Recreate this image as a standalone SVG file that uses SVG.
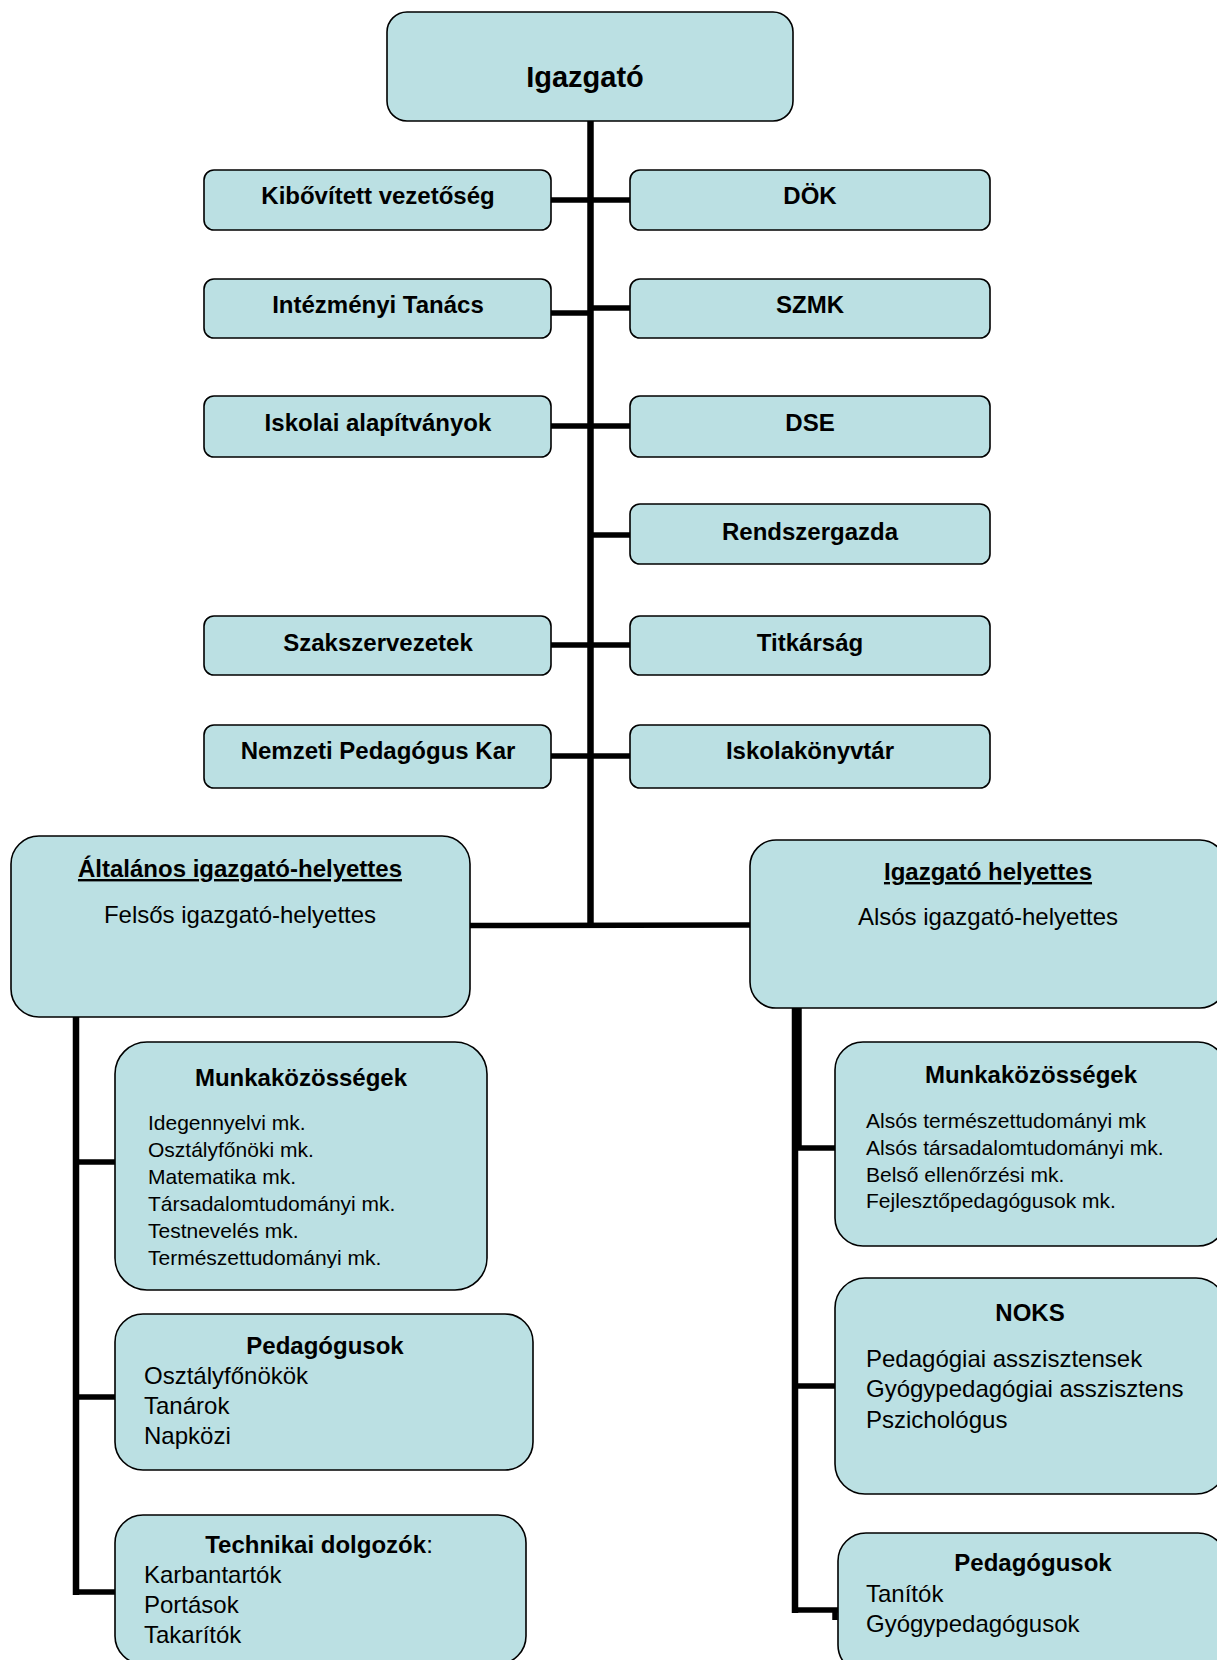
<svg xmlns="http://www.w3.org/2000/svg" width="1217" height="1660" viewBox="0 0 1217 1660">
<style>
.box{fill:#BBE0E3;stroke:#000;stroke-width:1.6}
.ln{stroke:#000;stroke-width:5.5;fill:none}
.tr{stroke:#000;stroke-width:6.5;fill:none}
text{font-family:"Liberation Sans",Arial,sans-serif;fill:#000}
.b{font-weight:bold;font-size:24px;text-anchor:middle}
.t{font-size:24px}
.tc{font-size:24px;text-anchor:middle}
.s{font-size:21px}
.u{text-decoration:underline}
</style>
<defs>
<clipPath id="clipL"><rect x="115" y="1042" width="372" height="226"/></clipPath>
</defs>
<rect width="1217" height="1660" fill="#fff"/>
<g id="connectors">
<line class="tr" x1="590.5" y1="121" x2="590.5" y2="928"/>
<line class="ln" x1="551" y1="200" x2="630" y2="200"/>
<line class="ln" x1="551" y1="313" x2="591" y2="313"/>
<line class="ln" x1="590" y1="308" x2="630" y2="308"/>
<line class="ln" x1="551" y1="426" x2="630" y2="426"/>
<line class="ln" x1="590" y1="535" x2="630" y2="535"/>
<line class="ln" x1="551" y1="645" x2="630" y2="645"/>
<line class="ln" x1="551" y1="756" x2="630" y2="756"/>
<line class="ln" x1="469" y1="925.5" x2="750" y2="925"/>
<line class="tr" x1="76" y1="1017" x2="76" y2="1595"/>
<line class="ln" x1="76" y1="1162" x2="115" y2="1162"/>
<line class="ln" x1="76" y1="1397" x2="115" y2="1397"/>
<line class="ln" x1="73" y1="1592" x2="115" y2="1592"/>
<line class="tr" x1="795" y1="1008" x2="795" y2="1613"/>
<line class="ln" x1="799" y1="1008" x2="799" y2="1148"/>
<line class="ln" x1="795" y1="1148" x2="835" y2="1148"/>
<line class="ln" x1="795" y1="1386" x2="835" y2="1386"/>
<line class="ln" x1="792" y1="1610" x2="838" y2="1610"/>
<line class="ln" x1="835" y1="1608" x2="835" y2="1620"/>
</g>
<g id="igazgato">
<rect class="box" x="387" y="12" width="406" height="109" rx="20"/>
<text x="585" y="87" style="font-weight:bold;font-size:29px;text-anchor:middle">Igazgató</text>
</g>
<g id="kibovitett">
<rect class="box" x="204" y="170" width="347" height="60" rx="10"/>
<text class="b" x="378" y="204">Kibővített vezetőség</text>
</g>
<g id="dok">
<rect class="box" x="630" y="170" width="360" height="60" rx="10"/>
<text class="b" x="810" y="204">DÖK</text>
</g>
<g id="intezmenyi">
<rect class="box" x="204" y="279" width="347" height="59" rx="10"/>
<text class="b" x="378" y="313">Intézményi Tanács</text>
</g>
<g id="szmk">
<rect class="box" x="630" y="279" width="360" height="59" rx="10"/>
<text class="b" x="810" y="313">SZMK</text>
</g>
<g id="alapitvanyok">
<rect class="box" x="204" y="396" width="347" height="61" rx="10"/>
<text class="b" x="378" y="431">Iskolai alapítványok</text>
</g>
<g id="dse">
<rect class="box" x="630" y="396" width="360" height="61" rx="10"/>
<text class="b" x="810" y="431">DSE</text>
</g>
<g id="rendszergazda">
<rect class="box" x="630" y="504" width="360" height="60" rx="10"/>
<text class="b" x="810" y="540">Rendszergazda</text>
</g>
<g id="szakszervezetek">
<rect class="box" x="204" y="616" width="347" height="59" rx="10"/>
<text class="b" x="378" y="651">Szakszervezetek</text>
</g>
<g id="titkarsag">
<rect class="box" x="630" y="616" width="360" height="59" rx="10"/>
<text class="b" x="810" y="651">Titkárság</text>
</g>
<g id="npk">
<rect class="box" x="204" y="725" width="347" height="63" rx="10"/>
<text class="b" x="378" y="759">Nemzeti Pedagógus Kar</text>
</g>
<g id="konyvtar">
<rect class="box" x="630" y="725" width="360" height="63" rx="10"/>
<text class="b" x="810" y="759">Iskolakönyvtár</text>
</g>
<g id="altalanos">
<rect class="box" x="11" y="836" width="459" height="181" rx="28"/>
<text class="b u" x="240" y="877">Általános igazgató-helyettes</text>
<text class="tc" x="240" y="923">Felsős igazgató-helyettes</text>
</g>
<g id="helyettes">
<rect class="box" x="750" y="840" width="476" height="168" rx="26"/>
<text class="b u" x="988" y="880">Igazgató helyettes</text>
<text class="tc" x="988" y="925">Alsós igazgató-helyettes</text>
</g>
<g id="munka-felso">
<rect class="box" x="115" y="1042" width="372" height="248" rx="32"/>
<text class="b" x="301" y="1086">Munkaközösségek</text>
<g clip-path="url(#clipL)">
<text class="s" x="148" y="1130">Idegennyelvi mk.</text>
<text class="s" x="148" y="1157">Osztályfőnöki mk.</text>
<text class="s" x="148" y="1184">Matematika mk.</text>
<text class="s" x="148" y="1211">Társadalomtudományi mk.</text>
<text class="s" x="148" y="1238">Testnevelés mk.</text>
<text class="s" x="148" y="1265">Természettudományi mk.</text>
</g>
</g>
<g id="pedagogusok-felso">
<rect class="box" x="115" y="1314" width="418" height="156" rx="28"/>
<text class="b" x="325" y="1354">Pedagógusok</text>
<text class="t" x="144" y="1384">Osztályfőnökök</text>
<text class="t" x="144" y="1414">Tanárok</text>
<text class="t" x="144" y="1444">Napközi</text>
</g>
<g id="technikai">
<rect class="box" x="115" y="1515" width="411" height="149" rx="28"/>
<text class="tc" x="319" y="1553"><tspan font-weight="bold">Technikai dolgozók</tspan>:</text>
<text class="t" x="144" y="1583">Karbantartók</text>
<text class="t" x="144" y="1613">Portások</text>
<text class="t" x="144" y="1643">Takarítók</text>
</g>
<g id="munka-also">
<rect class="box" x="835" y="1042" width="391" height="204" rx="28"/>
<text class="b" x="1031" y="1083">Munkaközösségek</text>
<text class="s" x="866" y="1128">Alsós természettudományi mk</text>
<text class="s" x="866" y="1155">Alsós társadalomtudományi mk.</text>
<text class="s" x="866" y="1182">Belső ellenőrzési mk.</text>
<text class="s" x="866" y="1208">Fejlesztőpedagógusok mk.</text>
</g>
<g id="noks">
<rect class="box" x="835" y="1278" width="391" height="216" rx="30"/>
<text class="b" x="1030" y="1321">NOKS</text>
<text class="t" x="866" y="1367">Pedagógiai asszisztensek</text>
<text class="t" x="866" y="1397">Gyógypedagógiai asszisztens</text>
<text class="t" x="866" y="1428">Pszichológus</text>
</g>
<g id="pedagogusok-also">
<rect class="box" x="838" y="1533" width="388" height="140" rx="28"/>
<text class="b" x="1033" y="1571">Pedagógusok</text>
<text class="t" x="866" y="1602">Tanítók</text>
<text class="t" x="866" y="1632">Gyógypedagógusok</text>
</g>
</svg>
